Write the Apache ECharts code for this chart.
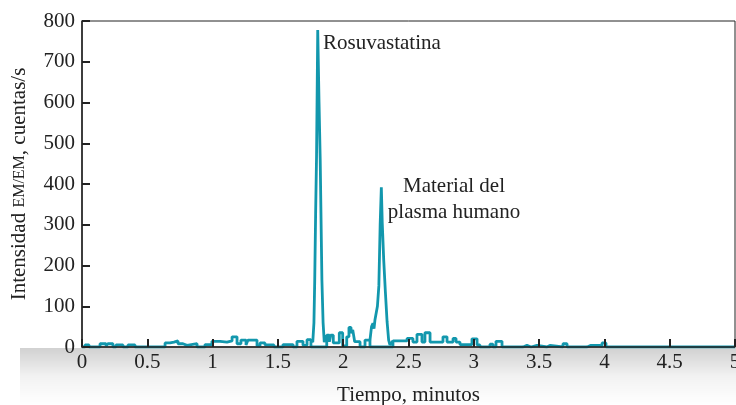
<!DOCTYPE html>
<html lang="es">
<head>
  <meta charset="utf-8">
  <style>
    html, body { margin: 0; padding: 0; width: 100%; height: 100%; overflow: hidden; background: #fff; }
  </style>
  <script src="https://cdn.jsdelivr.net/npm/echarts@6/dist/echarts.min.js"></script>
</head>
<body>
  <div id="container" style="width: 736px; height: 405px;"></div>
  <script>
    // baseline noise (step trace), time in minutes / counts per second
    var noiseTime = [0, 0.023, 0.054, 0.138, 0.184, 0.199, 0.237, 0.260, 0.314, 0.352, 0.406,
      0.636, 0.674, 0.704, 0.735, 0.773, 0.804, 0.881, 0.942, 0.995, 1.057, 1.110, 1.149, 1.187,
      1.217, 1.256, 1.271, 1.340, 1.363, 1.401, 1.470, 1.539, 1.616, 1.646, 1.692, 1.723, 1.753,
      1.874, 1.894, 1.904, 1.924, 1.970, 1.996, 2.027, 2.044, 2.060, 2.073, 2.088, 2.129, 2.167, 2.205,
      2.381, 2.489, 2.534, 2.565, 2.603, 2.626, 2.665, 2.764, 2.795, 2.841, 2.864, 2.894, 2.986,
      3.025, 3.047, 3.124, 3.147, 3.170, 3.216, 3.377, 3.407, 3.438, 3.484, 3.560, 3.583, 3.683,
      3.714, 3.867, 3.897, 3.905, 3.966, 3.982, 4.012, 5];
    var noiseCount = [0, 5, 0, 8, 3, 8, 0, 5, 0, 5, 0,
      10, 12, 15, 8, 4, 8, 0, 6, 14, 12, 15, 25, 8,
      17, 5, 17, 3, 10, 5, 0, 6, 0, 14, 4, 18, 0,
      29, 13, 29, 10, 35, 3, 25, 48, 34, 42, 13, 0, 17, 0,
      15, 21, 12, 31, 12, 35, 12, 25, 12, 21, 12, 6, 20,
      5, 0, 7, 0, 14, 0, 4, 0, 4, 0, 4, 0, 8,
      0, 4, 0, 4, 0, 10, 0, 0];

    // Rosuvastatina peak
    var peak1Time = [1.753, 1.767, 1.776, 1.782, 1.789, 1.796, 1.805, 1.815, 1.824, 1.837, 1.846, 1.855, 1.866, 1.874];
    var peak1Count = [18, 12, 60, 164, 330, 470, 778, 600, 459, 164, 60, 12, 10, 29];

    // plasma peak
    var peak2Time = [2.205, 2.217, 2.228, 2.236, 2.243, 2.251, 2.262, 2.273, 2.283, 2.292, 2.299, 2.310, 2.323, 2.336, 2.348, 2.358, 2.381];
    var peak2Count = [17, 50, 58, 45, 66, 70, 100, 150, 300, 392, 305, 215, 135, 62, 17, 5, 15];

    var lineColor = '#1297ad';
    var serif = '"Liberation Serif", "DejaVu Serif", serif';

    function pairs(xs, ys) {
      return xs.map(function (x, i) { return [x, ys[i]]; });
    }

    var myChart = echarts.init(document.getElementById('container'), null, { renderer: 'canvas' });

    var option = {
      animation: false,
      grid: {
        left: 82, right: 1, top: 21, bottom: 58,
        outerBoundsMode: 'none', containLabel: false,
        show: true, borderColor: '#222', borderWidth: 1
      },
      graphic: [{
        type: 'rect',
        z: -10,
        shape: { x: 20, y: 348, width: 716, height: 57 },
        style: {
          fill: new echarts.graphic.LinearGradient(0, 0, 0, 1, [
            { offset: 0, color: 'rgba(0,0,0,0.18)' },
            { offset: 0.5, color: 'rgba(0,0,0,0.05)' },
            { offset: 1, color: 'rgba(0,0,0,0)' }
          ])
        }
      }, {
        type: 'text', x: 323, y: 33,
        style: { text: 'Rosuvastatina', font: '21px ' + serif, fill: '#222' }
      }, {
        type: 'text', x: 454, y: 173,
        style: { text: 'Material del\nplasma humano', font: '21px ' + serif, fill: '#222', align: 'center', lineHeight: 26 }
      }],
      xAxis: {
        type: 'value', min: 0, max: 5, interval: 0.5, z: 5,
        name: 'Tiempo, minutos', nameLocation: 'middle', nameGap: 38,
        nameTextStyle: { fontFamily: serif, fontSize: 21, color: '#222' },
        axisLine: { show: true, lineStyle: { color: '#222', width: 1.5 } },
        axisTick: { show: true, inside: true, length: 8, lineStyle: { color: '#222', width: 2 } },
        axisLabel: { fontFamily: serif, fontSize: 21, color: '#222', margin: 5 },
        splitLine: { show: false }
      },
      yAxis: {
        type: 'value', min: 0, max: 800, interval: 100, z: 5,
        name: 'Intensidad {sc|EM/EM}, cuentas/s', nameLocation: 'middle', nameGap: 52, nameRotate: 90,
        nameTextStyle: {
          fontFamily: serif, fontSize: 21, color: '#222',
          rich: { sc: { fontFamily: serif, fontSize: 16, color: '#222' } }
        },
        axisLine: { show: true, lineStyle: { color: '#222', width: 1.5 } },
        axisTick: { show: true, inside: true, length: 8, lineStyle: { color: '#222', width: 2 } },
        axisLabel: { fontFamily: serif, fontSize: 21, color: '#222', margin: 7 },
        splitLine: { show: false }
      },
      series: [{
        name: 'ruido', type: 'line', step: 'end', symbol: 'none',
        data: pairs(noiseTime, noiseCount),
        lineStyle: { color: lineColor, width: 2.8 }
      }, {
        name: 'Rosuvastatina', type: 'line', symbol: 'none',
        data: pairs(peak1Time, peak1Count),
        lineStyle: { color: lineColor, width: 2.8 }
      }, {
        name: 'Material del plasma humano', type: 'line', symbol: 'none',
        data: pairs(peak2Time, peak2Count),
        lineStyle: { color: lineColor, width: 2.8 }
      }]
    };

    myChart.setOption(option);
    window.addEventListener('resize', myChart.resize);
  </script>
</body>
</html>
